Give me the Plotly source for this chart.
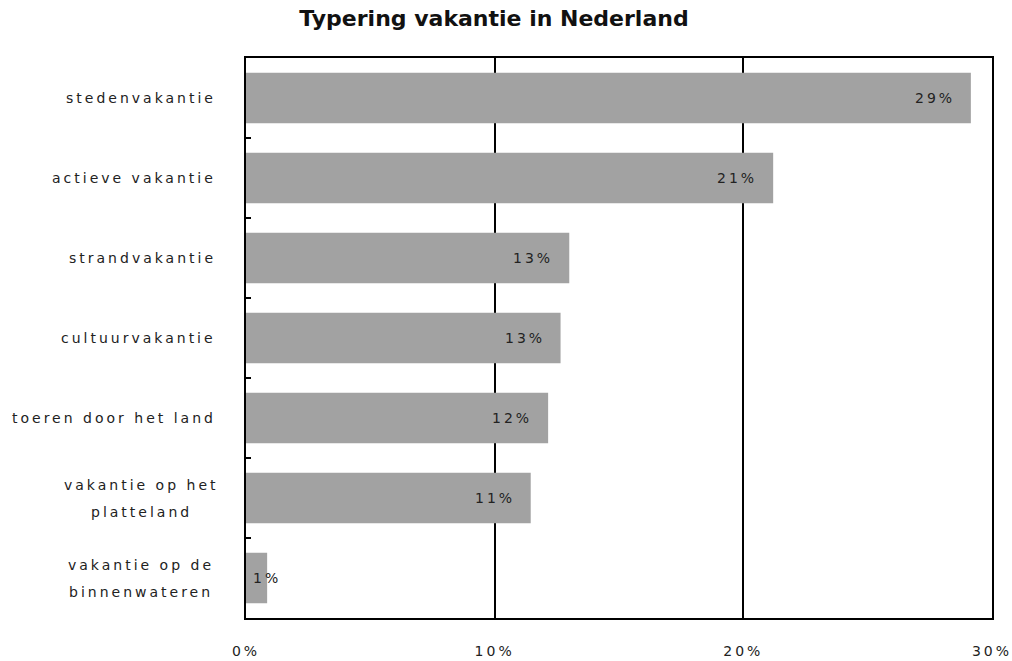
import plotly.graph_objects as go

categories = ["stedenvakantie", "actieve vakantie", "strandvakantie", "cultuurvakantie",
              "toeren door het land", "vakantie op het<br>platteland", "vakantie op de<br>binnenwateren"]
values = [29.15, 21.2, 13.0, 12.65, 12.15, 11.45, 0.85]
labels = ["29%", "21%", "13%", "13%", "12%", "11%", "1%"]
x_tickvals = [0, 10, 20, 30]
x_ticktext = ["0%", "10%", "20%", "30%"]

FONT = "DejaVu Sans"
SP = "letter-spacing:3px"

def spaced(t):
    return f"<span style='{SP}'>{t}</span>"

fig = go.Figure()
fig.add_trace(go.Bar(
    x=values, y=categories, orientation="h",
    marker=dict(color="#a2a2a2", line=dict(width=0)),
    width=0.63, hoverinfo="skip",
))

ann = []
for c, v, l in zip(categories, values, labels):
    if v >= 3:
        ann.append(dict(x=v, y=c, xref="x", yref="y", text=spaced(l), showarrow=False,
                        xanchor="right", xshift=-14, font=dict(family=FONT, size=14, color="#222")))
    else:
        ann.append(dict(x=0, y=c, xref="x", yref="y", text=spaced(l), showarrow=False,
                        xanchor="left", xshift=5, font=dict(family=FONT, size=14, color="#222")))
    parts = c.split("<br>")
    n = len(parts)
    for i, p in enumerate(parts):
        ys = ((n - 1) / 2 - i) * 27
        if n == 1:
            ann.append(dict(x=0, y=c, xref="paper", yref="y", text=spaced(p), showarrow=False,
                            xanchor="right", xshift=-28, yshift=ys,
                            font=dict(family=FONT, size=14, color="#222")))
        else:
            ann.append(dict(x=0, y=c, xref="paper", yref="y", text=spaced(p), showarrow=False,
                            xanchor="center", xshift=-105, yshift=ys,
                            font=dict(family=FONT, size=14, color="#222")))

fig.update_layout(
    width=1012, height=661,
    margin=dict(l=246, r=20, t=58, b=43),
    paper_bgcolor="white", plot_bgcolor="white",
    title=dict(text="<b>Typering vakantie in Nederland</b>", x=494/1012, xanchor="center",
               y=1-18/661, yanchor="middle", font=dict(family=FONT, size=22, color="#111")),
    showlegend=False,
    annotations=ann,
    xaxis=dict(range=[0, 30], tickvals=x_tickvals, ticktext=[spaced(t) for t in x_ticktext],
               showgrid=True, gridcolor="black", gridwidth=2,
               showline=True, linecolor="black", linewidth=2, mirror=True,
               zeroline=False, ticks="", ticklabelstandoff=19, automargin=False,
               ticklabeloverflow="allow",
               tickfont=dict(family=FONT, size=14, color="#222")),
    yaxis=dict(categoryorder="array", categoryarray=categories[::-1], autorange=True,
               showticklabels=False, showline=True, linecolor="black", linewidth=2, mirror=True,
               ticks="inside", tickson="boundaries", ticklen=5, tickcolor="black", tickwidth=2,
               showgrid=False, zeroline=False, automargin=False),
)
fig.write_html("out.html")
